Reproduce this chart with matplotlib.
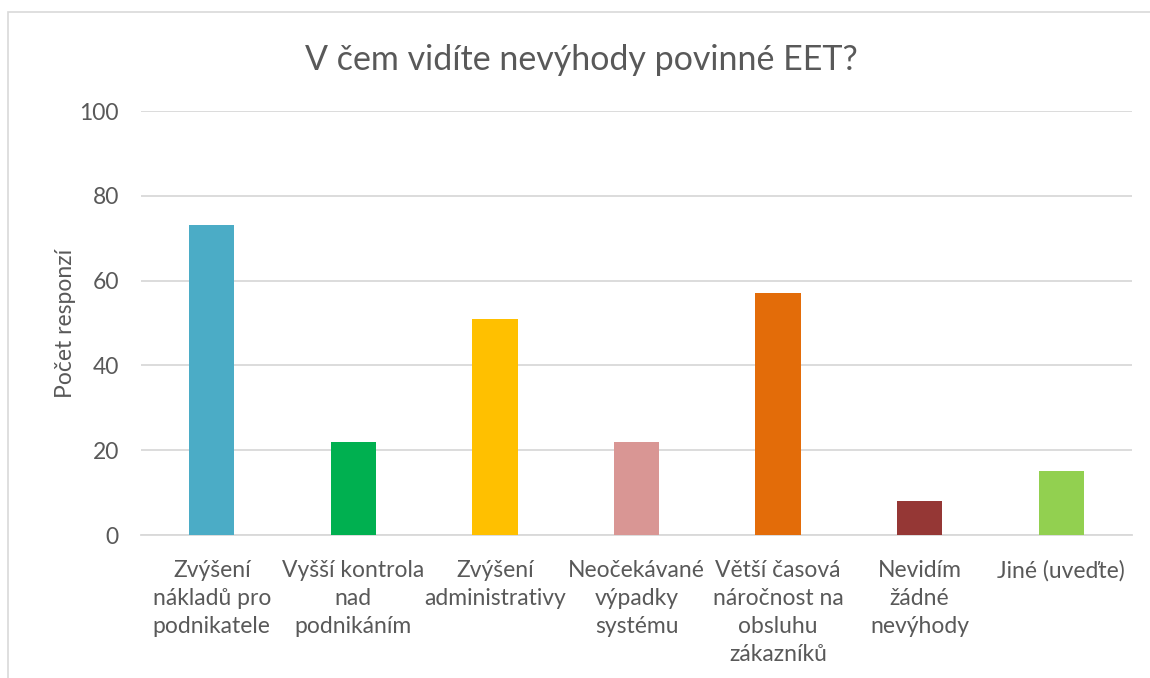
import matplotlib.pyplot as plt
from matplotlib.patches import Rectangle

categories = [
    'Zvýšení\nnákladů pro\npodnikatele',
    'Vyšší kontrola\nnad\npodnikáním',
    'Zvýšení\nadministrativy',
    'Neočekávané\nvýpadky\nsystému',
    'Větší časová\nnáročnost na\nobsluhu\nzákazníků',
    'Nevidím\nžádné\nnevýhody',
    'Jiné (uveďte)',
]
values = [73, 22, 51, 22, 57, 8, 15]
colors = ['#4BACC6', '#00B050', '#FFC000', '#D99694', '#E36C09', '#953735', '#92D050']
yticks = [0, 20, 40, 60, 80, 100]

plt.rcParams['font.family'] = ['Lato', 'DejaVu Sans']
text_color = '#595959'
grid_color = '#D9D9D9'

fig = plt.figure(figsize=(11.5, 6.78), dpi=100)
fig.patches.append(Rectangle((8 / 1150, -0.1), 1.2, 1 - 12 / 678 + 0.1,
                             transform=fig.transFigure, fill=False,
                             edgecolor=grid_color, linewidth=1.2))

ax = fig.add_axes([141 / 1150, 1 - 535 / 678, (1132 - 141) / 1150, (535 - 111) / 678])
x = range(len(categories))
ax.bar(x, values, width=0.32, color=colors, zorder=3)

ax.set_ylim(0, 100)
ax.set_xlim(-0.5, len(categories) - 0.5)
ax.set_yticks(yticks)
ax.set_xticks(list(x))
ax.set_xticklabels(categories, fontsize=16.5, color=text_color, linespacing=1.42, va='top')
ax.tick_params(axis='y', labelsize=16.5, colors=text_color, length=0, pad=16)
ax.tick_params(axis='x', length=0, pad=18)
ax.yaxis.grid(True, color=grid_color, linewidth=1.3, zorder=0)
for s in ['top', 'right', 'left']:
    ax.spines[s].set_visible(False)
ax.spines['bottom'].set_color(grid_color)
ax.spines['bottom'].set_linewidth(1.3)

ax.set_ylabel('Počet responzí', fontsize=16.5, color=text_color, labelpad=2)
fig.text(581 / 1150, 1 - 60 / 678, 'V čem vidíte nevýhody povinné EET?',
         ha='center', va='center', fontsize=24.5, color=text_color)

fig.savefig('out.png', dpi=100)
